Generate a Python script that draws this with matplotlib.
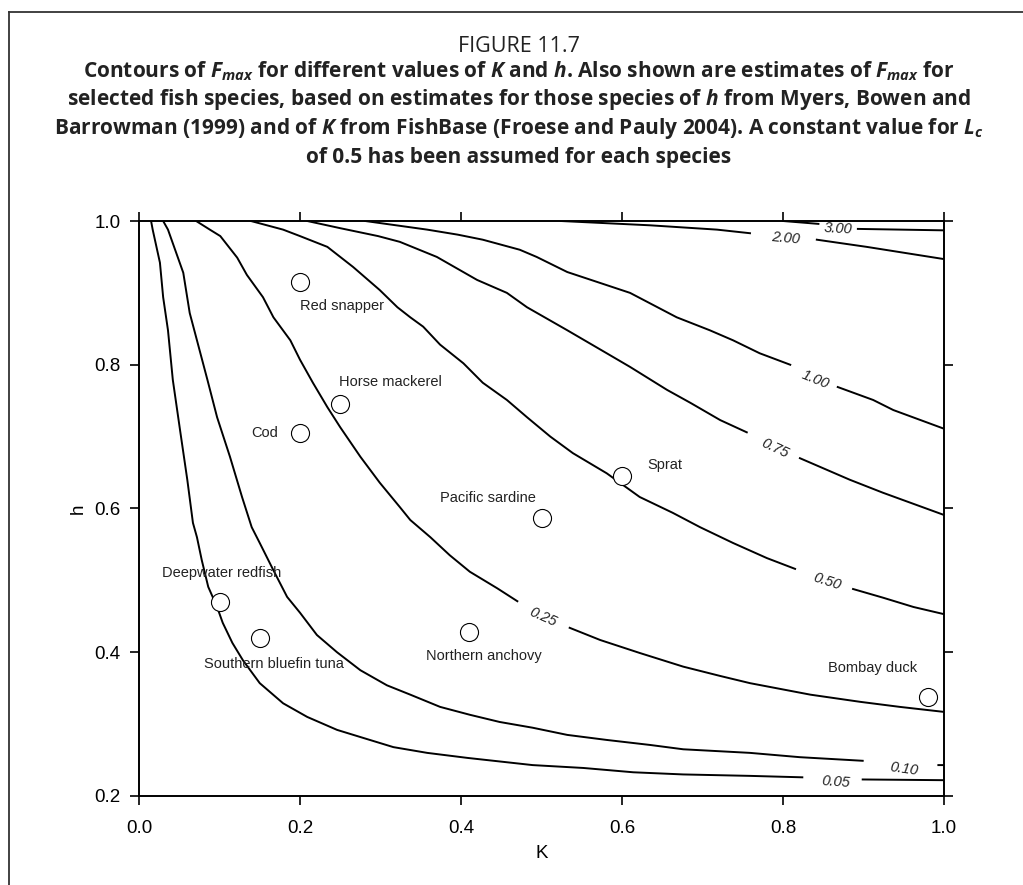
import numpy as np
import matplotlib
matplotlib.use('Agg')
import matplotlib.pyplot as plt
from matplotlib.lines import Line2D

nan = np.nan

# contour lines of Fmax (nan = gap for the inline label)
k_005 = [0.015, 0.017, 0.026, 0.030, 0.036, 0.042, 0.051, 0.060, 0.067, 0.072, 0.078, 0.086, 0.097, 0.104,
         0.116, 0.129, 0.150, 0.179, 0.209, 0.246, 0.278, 0.316, 0.358, 0.408, 0.489, 0.552, 0.614, 0.676,
         0.759, 0.824, nan, 0.899, 1.0]
h_005 = [1.0, 0.988, 0.942, 0.894, 0.848, 0.779, 0.709, 0.640, 0.580, 0.560, 0.528, 0.491, 0.463, 0.441,
         0.413, 0.389, 0.357, 0.329, 0.310, 0.292, 0.281, 0.268, 0.260, 0.253, 0.243, 0.239, 0.233, 0.230,
         0.228, 0.226, nan, 0.223, 0.222]

k_010 = [0.030, 0.036, 0.055, 0.063, 0.072, 0.085, 0.097, 0.113, 0.128, 0.140, 0.150, 0.167, 0.184, 0.200,
         0.221, 0.246, 0.275, 0.308, 0.337, 0.374, 0.411, 0.448, 0.489, 0.532, 0.581, 0.635, 0.676, 0.759,
         0.821, 0.899, nan, 0.993, 1.0]
h_010 = [1.0, 0.988, 0.928, 0.872, 0.834, 0.779, 0.727, 0.672, 0.616, 0.574, 0.552, 0.514, 0.477, 0.455,
         0.424, 0.400, 0.375, 0.354, 0.341, 0.324, 0.313, 0.303, 0.295, 0.285, 0.278, 0.271, 0.265, 0.260,
         0.254, 0.249, nan, 0.243, 0.243]

k_025 = [0.071, 0.088, 0.101, 0.122, 0.134, 0.154, 0.167, 0.188, 0.200, 0.216, 0.234, 0.250, 0.275, 0.299,
         0.324, 0.337, 0.362, 0.386, 0.411, 0.445, 0.470, nan, 0.535, 0.573, 0.622, 0.676, 0.722, 0.759,
         0.834, 0.896, 0.945, 1.0]
h_025 = [1.0, 0.988, 0.979, 0.949, 0.925, 0.894, 0.866, 0.834, 0.807, 0.775, 0.741, 0.713, 0.672, 0.636,
         0.602, 0.584, 0.560, 0.535, 0.512, 0.489, 0.471, nan, 0.434, 0.417, 0.399, 0.380, 0.367, 0.357,
         0.341, 0.331, 0.324, 0.317]

k_050 = [0.139, 0.179, 0.200, 0.234, 0.266, 0.299, 0.321, 0.337, 0.353, 0.374, 0.403, 0.427, 0.457, 0.482,
         0.511, 0.539, 0.581, 0.622, 0.663, 0.697, 0.738, 0.780, 0.815, nan, 0.887, 0.924, 0.962, 1.0]
h_050 = [1.0, 0.988, 0.979, 0.964, 0.936, 0.904, 0.880, 0.866, 0.853, 0.828, 0.802, 0.775, 0.751, 0.727,
         0.700, 0.677, 0.649, 0.616, 0.594, 0.574, 0.552, 0.531, 0.516, nan, 0.488, 0.476, 0.463, 0.453]

k_075 = [0.209, 0.250, 0.297, 0.324, 0.370, 0.420, 0.457, 0.482, 0.532, 0.581, 0.610, 0.656, 0.685, 0.722,
         0.755, nan, 0.821, 0.883, 0.924, 1.0]
h_075 = [1.0, 0.990, 0.979, 0.971, 0.950, 0.918, 0.900, 0.880, 0.848, 0.816, 0.797, 0.765, 0.747, 0.723,
         0.706, nan, 0.670, 0.640, 0.622, 0.591]

k_100 = [0.281, 0.358, 0.396, 0.427, 0.473, 0.494, 0.532, 0.610, 0.668, 0.709, 0.738, 0.771, 0.809, nan,
         0.868, 0.912, 0.937, 1.0]
h_100 = [1.0, 0.988, 0.981, 0.974, 0.960, 0.950, 0.929, 0.900, 0.866, 0.848, 0.834, 0.816, 0.800, nan,
         0.769, 0.751, 0.737, 0.711]

k_200 = [0.524, 0.635, 0.718, 0.759, nan, 0.842, 0.904, 1.0]
h_200 = [1.0, 0.994, 0.988, 0.983, nan, 0.974, 0.964, 0.947]

k_300 = [0.800, 0.844, nan, 0.893, 1.0]
h_300 = [1.0, 0.996, nan, 0.989, 0.987]

levels = ['0.05', '0.10', '0.25', '0.50', '0.75', '1.00', '2.00', '3.00']
contours = [(k_005, h_005), (k_010, h_010), (k_025, h_025), (k_050, h_050),
            (k_075, h_075), (k_100, h_100), (k_200, h_200), (k_300, h_300)]
# where the inline labels sit
label_k = [0.866, 0.950, 0.502, 0.855, 0.790, 0.840, 0.803, 0.868]
label_h = [0.220, 0.238, 0.449, 0.498, 0.684, 0.779, 0.976, 0.989]
label_rot = [-4, -8, -24, -18, -25, -22, -5, -3]

# species estimates
species = ['Red snapper', 'Horse mackerel', 'Cod', 'Deepwater redfish', 'Southern bluefin tuna',
           'Sprat', 'Pacific sardine', 'Northern anchovy', 'Bombay duck']
species_k = [0.20, 0.25, 0.20, 0.10, 0.15, 0.60, 0.50, 0.41, 0.98]
species_h = [0.915, 0.745, 0.705, 0.470, 0.420, 0.645, 0.587, 0.428, 0.338]
name_offsets = [(42, -24), (50, 22), (-35, 0), (2, 29), (14, -26),
                (43, 11), (-54, 20), (15, -24), (-55, 29)]

plt.rcParams['font.family'] = ['Liberation Sans', 'DejaVu Sans']
plt.rcParams['mathtext.fontset'] = 'custom'
plt.rcParams['mathtext.it'] = 'Open Sans:italic:bold'
plt.rcParams['mathtext.rm'] = 'Open Sans:bold'
plt.rcParams['mathtext.bf'] = 'Open Sans:bold'

W, H = 1023, 885
fig = plt.figure(figsize=(W / 100, H / 100), dpi=100)
ax = fig.add_axes([139 / W, 1 - 796 / H, 805 / W, 575 / H])

for (k, h) in contours:
    ax.plot(k, h, color='black', lw=1.4, zorder=2)

for lab, x, y, r in zip(levels, label_k, label_h, label_rot):
    ax.text(x, y, lab, fontsize=10.5, style='italic', ha='center', va='center',
            rotation=r, rotation_mode='anchor', color='#222222')

ax.plot(species_k, species_h, 'o', ms=13, mfc='white', mec='black', mew=0.8, zorder=3)
for name, x, y, off in zip(species, species_k, species_h, name_offsets):
    ax.annotate(name, (x, y), xytext=off, textcoords='offset pixels',
                ha='center', va='center', fontsize=10.5, color='#222222')

ax.set_xlim(0, 1)
ax.set_ylim(0.2, 1.0)
ax.set_xticks(np.arange(0, 1.01, 0.2))
ax.set_yticks(np.arange(0.2, 1.01, 0.2))
ax.xaxis.set_major_formatter(plt.FormatStrFormatter('%.1f'))
ax.yaxis.set_major_formatter(plt.FormatStrFormatter('%.1f'))
ax.tick_params(direction='out', length=6.5, width=1.2, labelsize=13.5,
               top=True, right=True, color='black')
ax.tick_params(axis='x', pad=11)
ax.tick_params(axis='y', pad=7)
for s in ax.spines.values():
    s.set_linewidth(1.4)
ax.set_xlabel('K', fontsize=13.5)
ax.set_ylabel('h', fontsize=13.5)
ax.xaxis.set_label_coords(0.5, -0.085)
ax.yaxis.set_label_coords(-0.065, 0.5)

# caption
fig.text(519 / W, 1 - 52 / H, 'FIGURE 11.7', ha='center', va='baseline',
         fontsize=15.5, family='Open Sans', color='#222222')
caption = [r'Contours of $F_{max}$ for different values of $K$ and $h$. Also shown are estimates of $F_{max}$ for',
           r'selected fish species, based on estimates for those species of $h$ from Myers, Bowen and',
           r'Barrowman (1999) and of $K$ from FishBase (Froese and Pauly 2004). A constant value for $L_c$',
           'of 0.5 has been assumed for each species']
for i, line in enumerate(caption):
    fig.text(519 / W, 1 - (77 + 28.5 * i) / H, line, ha='center', va='baseline',
             fontsize=15, family='Open Sans', fontweight='bold', color='#222222')

# frame around the figure
fig.add_artist(Line2D([9 / W, 1], [1 - 12 / H, 1 - 12 / H], transform=fig.transFigure,
                      color='#333333', lw=1.3))
fig.add_artist(Line2D([9 / W, 9 / W], [0, 1 - 12 / H], transform=fig.transFigure,
                      color='#333333', lw=1.3))

fig.savefig('out.png', dpi=100)
